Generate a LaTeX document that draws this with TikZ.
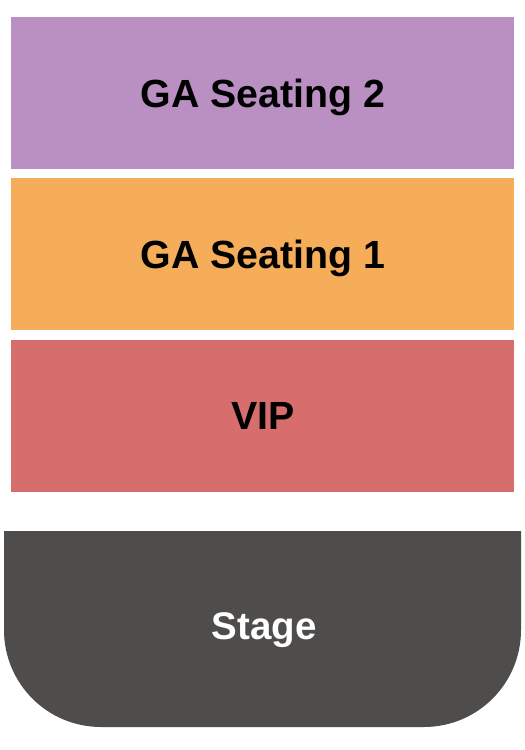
\documentclass[tikz,border=0pt]{standalone}
\usepackage{fontspec}
\setmainfont{Liberation Sans}
\definecolor{gatwo}{HTML}{BA90C2}
\definecolor{gaone}{HTML}{F5AD59}
\definecolor{vipc}{HTML}{D76E6D}
\definecolor{stagec}{HTML}{4F4D4C}
\begin{document}
\begin{tikzpicture}[x=1pt,y=-1pt,
  sect/.style={font=\bfseries\fontsize{39.3}{42}\selectfont, text=black, anchor=base, inner sep=0pt}]
\useasboundingbox (0,0) rectangle (525,750);
\fill[white] (0,0) rectangle (525,750);
\fill[gatwo] (11,17) rectangle (514,169);
\fill[gaone] (11,178) rectangle (514,330);
\fill[vipc] (11,340) rectangle (514,491.5);
\fill[stagec] (4,531) -- (521,531) -- (521,630) arc[start angle=0, end angle=90, radius=97] -- (101,727) arc[start angle=90, end angle=180, radius=97] -- cycle;
\node[sect] (ga2) at (263,107.5) {GA Seating 2};
\node[sect] (ga1) at (263,268) {GA Seating 1};
\node[sect] (vip) at (263,429) {VIP};
\node[sect, text=white, font=\bfseries\fontsize{38.5}{41}\selectfont] (stage) at (264,639.5) {Stage};
\end{tikzpicture}
\end{document}
